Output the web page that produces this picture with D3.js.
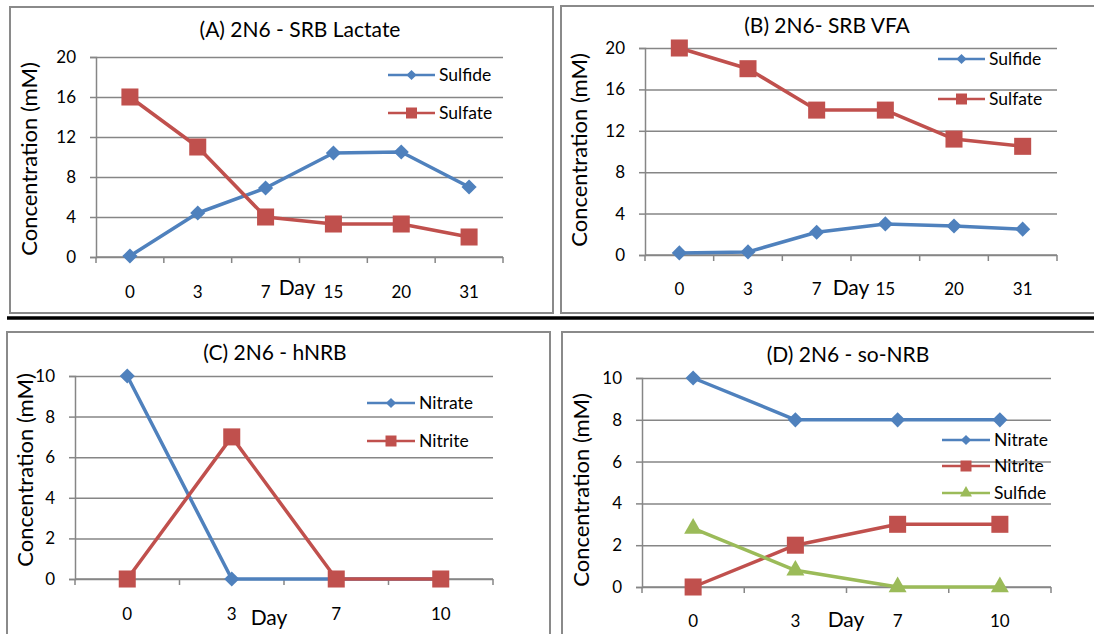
<!DOCTYPE html>
<meta charset="utf-8">
<script src="https://d3js.org/d3.v7.min.js"></script>
<style>
  body { margin: 0; background: #fff; }
  text { font-family: Lato, "Open Sans", sans-serif; fill: #000; }
</style>
<div id="chart"></div>
<script>

// categories (days) and tick values
const daysSRB = ["0", "3", "7", "15", "20", "31"];
const daysNRB = ["0", "3", "7", "10"];
const ticksSRB = [0, 4, 8, 12, 16, 20];
const ticksNRB = [0, 2, 4, 6, 8, 10];

// (A) 2N6 - SRB Lactate
const sulfideA = [0.1, 4.4, 6.9, 10.4, 10.5, 7.0];
const sulfateA = [16, 11, 4, 3.3, 3.3, 2.0];
// (B) 2N6- SRB VFA
const sulfideB = [0.2, 0.3, 2.2, 3.0, 2.8, 2.5];
const sulfateB = [20, 18, 14, 14, 11.2, 10.5];
// (C) 2N6 - hNRB
const nitrateC = [10, 0, 0, 0];
const nitriteC = [0, 7, 0, 0];
// (D) 2N6 - so-NRB
const nitrateD = [10, 8, 8, 8];
const nitriteD = [0, 2, 3, 3];
const sulfideD = [2.8, 0.8, 0, 0];

const blue = "#4F81BD", red = "#C0504D", green = "#9BBB59";
const gridColor = "#868686";

const panels = [
  {
    title: "(A) 2N6 - SRB Lactate", days: daysSRB, ticks: ticksSRB,
    series: [
      {name: "Sulfide", values: sulfideA, color: blue, shape: "diamond"},
      {name: "Sulfate", values: sulfateA, color: red, shape: "square"}
    ],
    frame: [10, 7, 543, 306], plot: [96, 503, 57, 257],
    title_xy: [300, 37], ylab_xy: [29, 159], tickY: 298, day_xy: [297, 295],
    legend: {x1: 388, x2: 435, ys: [75, 113]}
  },
  {
    title: "(B) 2N6- SRB VFA", days: daysSRB, ticks: ticksSRB,
    series: [
      {name: "Sulfide", values: sulfideB, color: blue, shape: "diamond"},
      {name: "Sulfate", values: sulfateB, color: red, shape: "square"}
    ],
    frame: [561, 6, 560, 307], plot: [645, 1057, 48, 255],
    title_xy: [827, 33], ylab_xy: [579, 150], tickY: 295, day_xy: [851, 295],
    legend: {x1: 938, x2: 985, ys: [59, 99]}
  },
  {
    title: "(C) 2N6 - hNRB", days: daysNRB, ticks: ticksNRB,
    series: [
      {name: "Nitrate", values: nitrateC, color: blue, shape: "diamond"},
      {name: "Nitrite", values: nitriteC, color: red, shape: "square"}
    ],
    frame: [7, 332, 543, 320], plot: [75, 493, 376, 579],
    title_xy: [275, 360], ylab_xy: [25, 470], tickY: 620, day_xy: [269, 625],
    legend: {x1: 367, x2: 415, ys: [403, 441]}
  },
  {
    title: "(D) 2N6 - so-NRB", days: daysNRB, ticks: ticksNRB,
    series: [
      {name: "Nitrate", values: nitrateD, color: blue, shape: "diamond"},
      {name: "Nitrite", values: nitriteD, color: red, shape: "square"},
      {name: "Sulfide", values: sulfideD, color: green, shape: "triangle"}
    ],
    frame: [562, 332, 560, 320], plot: [642, 1051, 378, 587],
    title_xy: [848, 362], ylab_xy: [581, 490], tickY: 627, day_xy: [846, 627],
    legend: {x1: 942, x2: 990, ys: [440, 466, 493]}
  }
];

const svg = d3.select("#chart")
  .append("svg")
  .attr("width", 1094)
  .attr("height", 634);

// marker path generator
function marker(shape, big) {
  if (shape === "diamond") return d3.symbol(d3.symbolSquare, big ? 115 : 52)();
  if (shape === "square") return d3.symbol(d3.symbolSquare, big ? 290 : 121)();
  return d3.symbol(d3.symbolTriangle, big ? 140 : 62)();
}
function rot(shape) { return shape === "diamond" ? " rotate(45)" : ""; }

// separator line between rows
svg.append("line")
  .attr("x1", 7).attr("x2", 1094)
  .attr("y1", 318).attr("y2", 318)
  .attr("stroke", "#000").attr("stroke-width", 3.5);

panels.forEach(p => {
  const g = svg.append("g");

  // frame
  g.append("rect")
    .attr("x", p.frame[0]).attr("y", p.frame[1])
    .attr("width", p.frame[2]).attr("height", p.frame[3])
    .attr("fill", "none").attr("stroke", "#8a8a8a").attr("stroke-width", 2);

  const x = d3.scaleBand().domain(p.days).range([p.plot[0], p.plot[1]]);
  const y = d3.scaleLinear().domain([0, d3.max(p.ticks)]).range([p.plot[3], p.plot[2]]);

  // gridlines + y axis
  const yAxis = g.append("g")
    .attr("transform", `translate(${p.plot[0]},0)`)
    .call(d3.axisLeft(y).tickValues(p.ticks).tickSize(6).tickPadding(14));
  yAxis.select(".domain").attr("stroke", gridColor).attr("stroke-width", 1.5);
  yAxis.selectAll(".tick line").attr("stroke", gridColor).attr("stroke-width", 1.5);
  yAxis.selectAll(".tick").append("line")
    .attr("x1", 0).attr("x2", p.plot[1] - p.plot[0])
    .attr("stroke", gridColor).attr("stroke-width", 1.5);
  yAxis.selectAll(".tick text")
    .attr("font-family", "Lato, sans-serif").attr("font-size", 17).attr("fill", "#000");

  // x axis line with ticks at band edges
  g.append("line")
    .attr("x1", p.plot[0]).attr("x2", p.plot[1])
    .attr("y1", y(0)).attr("y2", y(0))
    .attr("stroke", gridColor).attr("stroke-width", 1.5);
  const edges = p.days.map(d => x(d)).concat([p.plot[1]]);
  g.selectAll(".xtick").data(edges).enter().append("line")
    .attr("x1", d => d).attr("x2", d => d)
    .attr("y1", y(0)).attr("y2", y(0) + 6)
    .attr("stroke", gridColor).attr("stroke-width", 1.5);
  g.selectAll(".xlab").data(p.days).enter().append("text")
    .attr("x", d => x(d) + x.bandwidth() / 2)
    .attr("y", p.tickY)
    .attr("text-anchor", "middle")
    .attr("font-size", 17)
    .text(d => d);

  // titles and axis labels
  g.append("text")
    .attr("x", p.title_xy[0]).attr("y", p.title_xy[1])
    .attr("text-anchor", "middle").attr("font-size", 21)
    .text(p.title);
  g.append("text")
    .attr("transform", `translate(${p.ylab_xy[0]},${p.ylab_xy[1]}) rotate(-90)`)
    .attr("text-anchor", "middle").attr("dy", "0.35em").attr("font-size", 22)
    .text("Concentration (mM)");
  g.append("text")
    .attr("x", p.day_xy[0]).attr("y", p.day_xy[1])
    .attr("text-anchor", "middle").attr("font-size", 21)
    .text("Day");

  // series
  p.series.forEach(s => {
    const pts = s.values.map((v, i) => [x(p.days[i]) + x.bandwidth() / 2, y(v)]);
    g.append("path")
      .attr("d", d3.line()(pts))
      .attr("fill", "none").attr("stroke", s.color).attr("stroke-width", 3.5)
      .attr("stroke-linejoin", "round");
    g.selectAll(null).data(pts).enter().append("path")
      .attr("d", marker(s.shape, true))
      .attr("transform", d => `translate(${d[0]},${d[1]})` + rot(s.shape))
      .attr("fill", s.color);
  });

  // legend
  p.series.forEach((s, i) => {
    const ly = p.legend.ys[i];
    g.append("line")
      .attr("x1", p.legend.x1).attr("x2", p.legend.x2)
      .attr("y1", ly).attr("y2", ly)
      .attr("stroke", s.color).attr("stroke-width", 2.5);
    g.append("path")
      .attr("d", marker(s.shape, false))
      .attr("transform", `translate(${(p.legend.x1 + p.legend.x2) / 2},${ly})` + rot(s.shape))
      .attr("fill", s.color);
    g.append("text")
      .attr("x", p.legend.x2 + 4).attr("y", ly)
      .attr("dy", "0.35em").attr("font-size", 17.5)
      .text(s.name);
  });
});

</script>
